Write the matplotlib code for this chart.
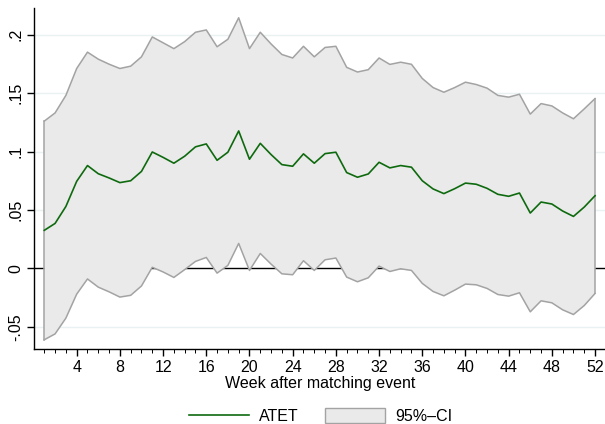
import matplotlib
matplotlib.use("Agg")
import matplotlib.pyplot as plt
from matplotlib.lines import Line2D
from matplotlib.patches import Patch
from matplotlib.ticker import MultipleLocator

plt.rcParams['font.family'] = ['Liberation Sans', 'DejaVu Sans']

weeks = list(range(1, 53))

atet = [0.0326, 0.0385, 0.053, 0.0745, 0.088, 0.081, 0.0774, 0.0734, 0.075, 0.083,
        0.0996, 0.095, 0.090, 0.096, 0.104, 0.1065, 0.0925, 0.0994, 0.1176, 0.0934,
        0.107, 0.0974, 0.0888, 0.0874, 0.098, 0.090, 0.0982, 0.0994, 0.082, 0.078,
        0.0808, 0.0908, 0.086, 0.088, 0.0866, 0.075, 0.068, 0.064, 0.0682, 0.073,
        0.072, 0.0685, 0.0634, 0.0617, 0.0645, 0.0474, 0.0568, 0.0551, 0.0491, 0.0445,
        0.0525, 0.0622]

ci_upper = [0.126, 0.133, 0.148, 0.171, 0.185, 0.179, 0.1747, 0.171, 0.173, 0.181,
            0.198, 0.193, 0.188, 0.194, 0.202, 0.204, 0.1896, 0.196, 0.2144, 0.188,
            0.202, 0.192, 0.183, 0.180, 0.190, 0.181, 0.189, 0.190, 0.172, 0.168,
            0.170, 0.180, 0.1745, 0.1764, 0.1746, 0.1625, 0.1547, 0.1507, 0.1547, 0.1593,
            0.1573, 0.1542, 0.148, 0.1465, 0.149, 0.132, 0.141, 0.139, 0.133, 0.128,
            0.1365, 0.1453]

ci_lower = [-0.061, -0.056, -0.0425, -0.022, -0.009, -0.016, -0.020, -0.0245, -0.023, -0.015,
            0.001, -0.003, -0.0077, -0.001, 0.006, 0.0094, -0.004, 0.0026, 0.0214, -0.0017,
            0.0128, 0.0037, -0.0046, -0.0054, 0.0066, -0.0017, 0.0074, 0.0089, -0.0074, -0.0114,
            -0.008, 0.002, -0.0026, -0.0003, -0.0017, -0.0128, -0.0197, -0.0234, -0.0186, -0.0134,
            -0.014, -0.0171, -0.0223, -0.0237, -0.0208, -0.0371, -0.0277, -0.0294, -0.0354, -0.0394,
            -0.0317, -0.0214]

y_ticks = [-0.05, 0, 0.05, 0.1, 0.15, 0.2]
y_ticklabels = ['-.05', '0', '.05', '.1', '.15', '.2']
x_ticks = list(range(4, 53, 4))

fill_color = '#EAEAEA'
edge_color = '#A3A3A3'
line_color = '#0E6A0E'
grid_color = '#EAF1F2'
fs = 11.5

fig = plt.figure(figsize=(6.05, 4.24), dpi=100)
ax = fig.add_axes([0.057, 0.178, 0.943, 0.803])

ax.set_xlim(0.093, 52.92)
ax.set_ylim(-0.0685, 0.2227)

# horizontal grid and zero reference line sit beneath the band
for yv in y_ticks:
    if yv != 0:
        ax.axhline(yv, color=grid_color, lw=1.0, zorder=0)
ax.axhline(0, color='black', lw=1.0, zorder=0.5)

ax.fill_between(weeks, ci_lower, ci_upper, facecolor=fill_color, edgecolor='none', zorder=1)
ax.plot(weeks, ci_upper, color=edge_color, lw=1.1, zorder=2)
ax.plot(weeks, ci_lower, color=edge_color, lw=1.1, zorder=2)
ax.plot([weeks[0], weeks[0]], [ci_lower[0], ci_upper[0]], color=edge_color, lw=1.1, zorder=2)
ax.plot([weeks[-1], weeks[-1]], [ci_lower[-1], ci_upper[-1]], color=edge_color, lw=1.1, zorder=2)
ax.plot(weeks, atet, color=line_color, lw=1.2, zorder=3)

for side in ('top', 'right'):
    ax.spines[side].set_visible(False)
for side in ('left', 'bottom'):
    ax.spines[side].set_linewidth(1.0)
    ax.spines[side].set_color('black')

ax.set_xticks(x_ticks)
ax.xaxis.set_minor_locator(MultipleLocator(1))
ax.set_yticks(y_ticks)
ax.set_yticklabels(y_ticklabels, rotation=90, va='center')
ax.tick_params(axis='both', which='major', direction='out', length=5, width=1.0,
               labelsize=fs, pad=3)
ax.tick_params(axis='x', which='minor', direction='out', length=3, width=0.7)
ax.set_xlabel('Week after matching event', fontsize=fs, labelpad=1)

handles = [Line2D([0], [0], color=line_color, lw=1.2),
           Patch(facecolor=fill_color, edgecolor=edge_color, lw=1.0)]
fig.legend(handles, ['ATET', '95%–CI'], loc='lower center', ncol=2,
           bbox_to_anchor=(0.53, -0.034), frameon=False, fontsize=fs,
           handlelength=3.75, handleheight=1.0, handletextpad=0.6, columnspacing=1.7)

fig.savefig('out.png', dpi=100, facecolor='white')
